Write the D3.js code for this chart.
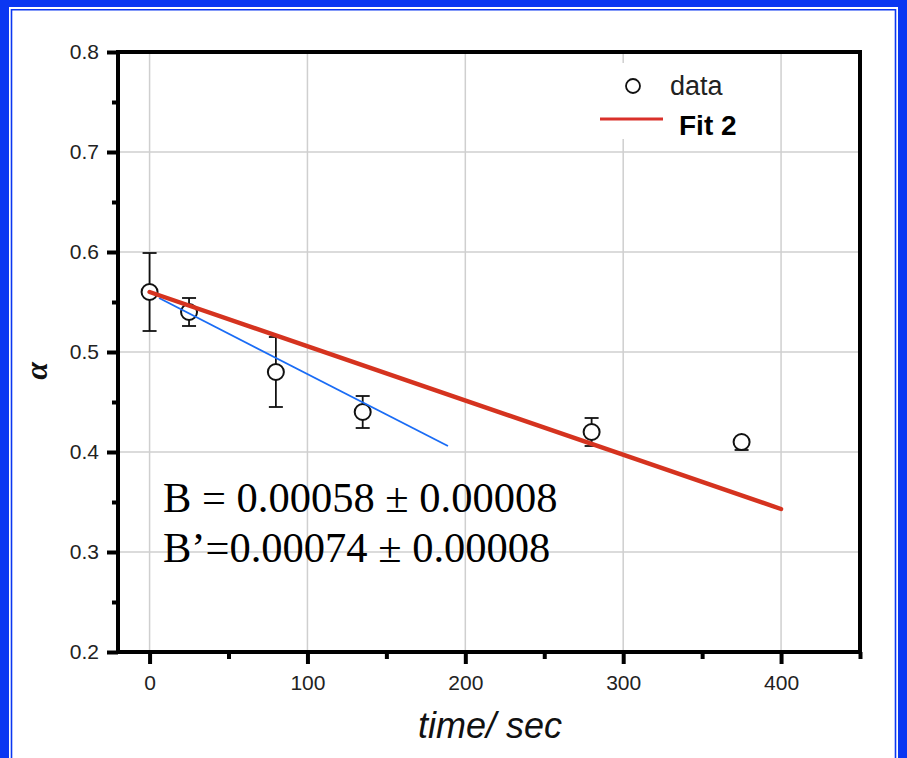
<!DOCTYPE html>
<html>
<head>
<meta charset="utf-8">
<script src="https://cdn.jsdelivr.net/npm/d3@7"></script>
<style>
  body { margin: 0; background: #fff; }
  svg { display: block; }
</style>
</head>
<body>
<div id="wrapper"></div>
<script>
// measured points
const times = [0, 25, 80, 135, 280, 375]
const alphas = [0.56, 0.54, 0.48, 0.44, 0.42, 0.41]
const errorsUp = [0.039, 0.014, 0.035, 0.016, 0.014, 0.004]
const errorsDown = [0.039, 0.014, 0.035, 0.016, 0.014, 0.008]

// Fit 2 (red) and the short blue fit
const fitTimes = [0, 400]
const fitAlphas = [0.56, 0.343]
const blueTimes = [6, 189]
const blueAlphas = [0.554, 0.406]

const xMajorTicks = [0, 100, 200, 300, 400]
const xMinorTicks = [50, 150, 250, 350, 450]
const yMajorTicks = [0.2, 0.3, 0.4, 0.5, 0.6, 0.7, 0.8]
const yMinorTicks = [0.25, 0.35, 0.45, 0.55, 0.65, 0.75]

const legendLabels = ["data", "Fit 2"]
const noteLines = ["B = 0.00058 \u00b1 0.00008", "B\u2019=0.00074 \u00b1 0.00008"]

const xLabel = "time/ sec"
const yLabel = "\u03b1"

function drawChart() {
    d3.selectAll("svg").remove()
    const dimensions = {
        width: 907,
        height: 758,
        left: 118, right: 860, top: 52, bottom: 652,
    }
    const svg = d3.select("#wrapper")
        .append("svg")
        .attr("width", dimensions.width)
        .attr("height", dimensions.height)

    drawFrame(svg, dimensions)

    const xScale = d3.scaleLinear()
        .domain([-20, 450])
        .range([dimensions.left, dimensions.right])
    const yScale = d3.scaleLinear()
        .domain([0.2, 0.8])
        .range([dimensions.bottom, dimensions.top])

    drawGrid(svg, xScale, yScale, dimensions)
    drawLegend(svg)
    drawData(svg, xScale, yScale)
    drawPeripherals(svg, xScale, yScale, dimensions)
}

function drawFrame(svg, d) {
    const blue = "#0a37f2"
    // thick blue strips on left, top and right
    svg.append("rect").attr("x", 0).attr("y", 0).attr("width", 9).attr("height", d.height).attr("fill", blue)
    svg.append("rect").attr("x", 0).attr("y", 0).attr("width", d.width).attr("height", 7).attr("fill", blue)
    svg.append("rect").attr("x", d.width - 9).attr("y", 0).attr("width", 9).attr("height", d.height).attr("fill", blue)
    // thin inner line
    svg.append("path")
        .attr("d", `M11.5,${d.height} V9.8 H${d.width - 11.5} V${d.height}`)
        .attr("fill", "none")
        .attr("stroke", blue)
        .attr("stroke-width", 1.6)
}

function drawGrid(svg, xScale, yScale, d) {
    const grid = svg.append("g").attr("stroke", "#cfcfcf").attr("stroke-width", 1.5)
    grid.selectAll(".vgrid")
        .data(xMajorTicks)
        .join("line")
        .attr("x1", t => xScale(t)).attr("x2", t => xScale(t))
        .attr("y1", d.top).attr("y2", d.bottom)
    grid.selectAll(".hgrid")
        .data(yMajorTicks.slice(1, -1))
        .join("line")
        .attr("class", "hgrid")
        .attr("x1", d.left).attr("x2", d.right)
        .attr("y1", v => yScale(v)).attr("y2", v => yScale(v))
}

function drawLegend(svg) {
    const legend = svg.append("g")
    legend.append("rect")
        .attr("x", 588).attr("y", 63)
        .attr("width", 170).attr("height", 76)
        .attr("fill", "#fff")
    legend.append("circle")
        .attr("cx", 633).attr("cy", 86).attr("r", 7)
        .attr("fill", "#fff").attr("stroke", "#111").attr("stroke-width", 1.8)
    legend.append("text")
        .attr("x", 670).attr("y", 95)
        .attr("font-family", "Liberation Sans, Arial, sans-serif")
        .attr("font-size", 27)
        .attr("fill", "#222")
        .text(legendLabels[0])
    legend.append("line")
        .attr("x1", 600).attr("x2", 663)
        .attr("y1", 119).attr("y2", 119)
        .attr("stroke", "#d9302a").attr("stroke-width", 3)
    legend.append("text")
        .attr("x", 679).attr("y", 135)
        .attr("font-family", "Liberation Sans, Arial, sans-serif")
        .attr("font-size", 28)
        .attr("font-weight", "bold")
        .attr("fill", "#000")
        .text(legendLabels[1])
}

function drawData(svg, xScale, yScale) {
    const points = times.map((t, i) => ({t, a: alphas[i], up: errorsUp[i], down: errorsDown[i]}))
    const bars = svg.append("g").attr("stroke", "#111").attr("stroke-width", 1.8)
    bars.selectAll(".stem")
        .data(points)
        .join("line")
        .attr("x1", p => xScale(p.t)).attr("x2", p => xScale(p.t))
        .attr("y1", p => yScale(p.a + p.up)).attr("y2", p => yScale(p.a - p.down))
    bars.selectAll(".capTop")
        .data(points)
        .join("line")
        .attr("class", "capTop")
        .attr("x1", p => xScale(p.t) - 7).attr("x2", p => xScale(p.t) + 7)
        .attr("y1", p => yScale(p.a + p.up)).attr("y2", p => yScale(p.a + p.up))
    bars.selectAll(".capBottom")
        .data(points)
        .join("line")
        .attr("class", "capBottom")
        .attr("x1", p => xScale(p.t) - 7).attr("x2", p => xScale(p.t) + 7)
        .attr("y1", p => yScale(p.a - p.down)).attr("y2", p => yScale(p.a - p.down))

    svg.append("g")
        .selectAll("circle")
        .data(points)
        .join("circle")
        .attr("cx", p => xScale(p.t))
        .attr("cy", p => yScale(p.a))
        .attr("r", 8)
        .attr("fill", "#fff")
        .attr("stroke", "#111")
        .attr("stroke-width", 2)

    const line = d3.line().x(p => xScale(p[0])).y(p => yScale(p[1]))
    svg.append("path")
        .datum(blueTimes.map((t, i) => [t, blueAlphas[i]]))
        .attr("d", line)
        .attr("fill", "none")
        .attr("stroke", "#1a6cf5")
        .attr("stroke-width", 1.8)
    svg.append("path")
        .datum(fitTimes.map((t, i) => [t, fitAlphas[i]]))
        .attr("d", line)
        .attr("fill", "none")
        .attr("stroke", "#d5331f")
        .attr("stroke-width", 4.4)
        .attr("stroke-linecap", "round")

    svg.selectAll(".note")
        .data(noteLines)
        .join("text")
        .attr("class", "note")
        .attr("x", 163)
        .attr("y", (s, i) => 512 + i * 50)
        .attr("font-family", "Liberation Serif, Times New Roman, serif")
        .attr("font-size", 42.5)
        .attr("fill", "#000")
        .text(s => s)
}

function drawPeripherals(svg, xScale, yScale, d) {
    const font = "Liberation Sans, Arial, sans-serif"
    const xAxis = svg.append("g")
        .attr("transform", `translate(0, ${d.bottom})`)
        .call(d3.axisBottom(xScale).tickValues(xMajorTicks).tickSize(12).tickPadding(11))
    const xMinor = svg.append("g")
        .attr("transform", `translate(0, ${d.bottom})`)
        .call(d3.axisBottom(xScale).tickValues(xMinorTicks).tickSize(7).tickFormat(""))
    const yAxis = svg.append("g")
        .attr("transform", `translate(${d.left}, 0)`)
        .call(d3.axisLeft(yScale).tickValues(yMajorTicks).tickSize(11).tickPadding(8).tickFormat(d3.format(".1f")))
    const yMinor = svg.append("g")
        .attr("transform", `translate(${d.left}, 0)`)
        .call(d3.axisLeft(yScale).tickValues(yMinorTicks).tickSize(6).tickFormat(""))

    for (const g of [xAxis, xMinor, yAxis, yMinor]) {
        g.select(".domain").remove()
        g.selectAll(".tick line").attr("stroke", "#000").attr("stroke-width", 4)
        g.selectAll(".tick text")
            .attr("font-family", font)
            .attr("font-size", 21)
            .attr("fill", "#222")
    }

    svg.append("rect")
        .attr("x", d.left).attr("y", d.top)
        .attr("width", d.right - d.left).attr("height", d.bottom - d.top)
        .attr("fill", "none")
        .attr("stroke", "#000")
        .attr("stroke-width", 4)

    svg.append("text")
        .attr("x", 490).attr("y", 738)
        .attr("text-anchor", "middle")
        .attr("font-family", font)
        .attr("font-style", "italic")
        .attr("font-size", 36)
        .attr("fill", "#111")
        .text(xLabel)

    svg.append("text")
        .attr("transform", "translate(47, 371) rotate(-90)")
        .attr("text-anchor", "middle")
        .attr("font-family", "Liberation Serif, Times New Roman, serif")
        .attr("font-style", "italic")
        .attr("font-weight", "bold")
        .attr("font-size", 32)
        .attr("fill", "#111")
        .text(yLabel)
}

drawChart()
</script>
</body>
</html>
